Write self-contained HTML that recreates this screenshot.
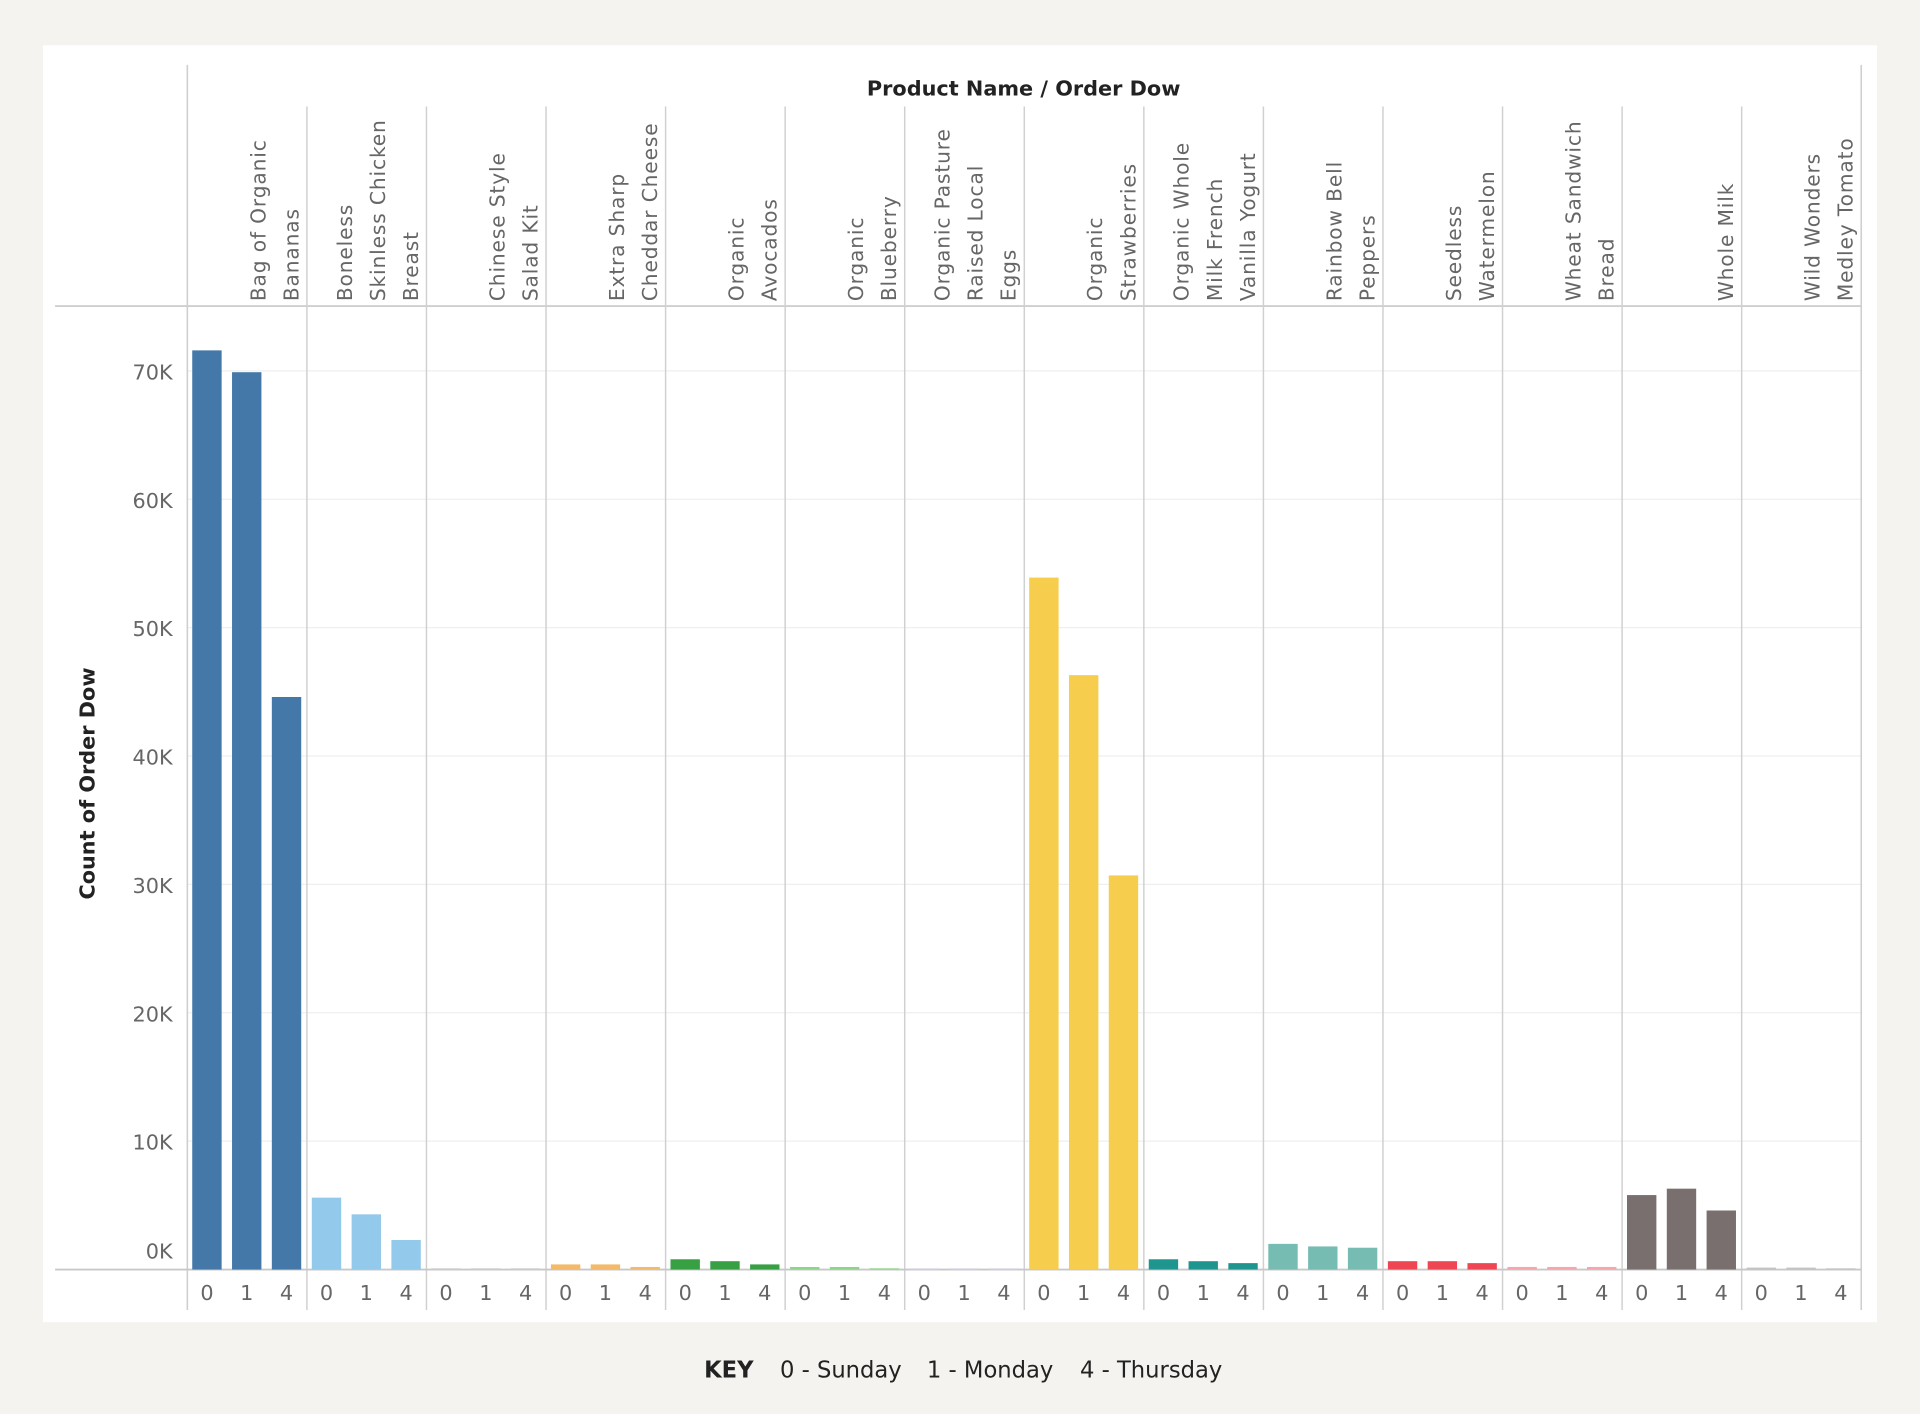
<!DOCTYPE html>
<html><head><meta charset="utf-8"><style>
html,body{margin:0;padding:0;background:#f4f3ef;width:1920px;height:1414px;overflow:hidden}
svg{display:block}
text{font-family:"DejaVu Sans","Liberation Sans",sans-serif}
</style></head><body>
<svg id="chart" width="1920" height="1414" viewBox="0 0 1568 1155" preserveAspectRatio="none" xmlns="http://www.w3.org/2000/svg">
<rect x="0" y="0" width="1568" height="1155" fill="#f4f3ef"/>
<rect x="35" y="37" width="1498" height="1043" fill="#ffffff"/>
<g id="grid"></g><g id="panes"></g><g id="bars"></g><g id="labels"></g>
<text x="836" y="78" text-anchor="middle" font-size="17" font-weight="bold" fill="#222" font-family="Liberation Sans, sans-serif">Product Name / Order Dow</text>
<text transform="translate(77,640) rotate(-90)" text-anchor="middle" font-size="17" font-weight="bold" fill="#222" font-family="Liberation Sans, sans-serif">Count of Order Dow</text>
<g font-family="Liberation Sans, sans-serif" font-size="18.5" fill="#222">
<text x="575" y="1125" font-weight="bold">KEY</text>
<text x="637" y="1125">0 - Sunday</text>
<text x="757" y="1125">1 - Monday</text>
<text x="882" y="1125">4 - Thursday</text>
</g>
</svg>
<script>
const products = [["Bag of Organic","Bananas"],["Boneless","Skinless Chicken","Breast"],["Chinese Style","Salad Kit"],["Extra Sharp","Cheddar Cheese"],["Organic","Avocados"],["Organic","Blueberry"],["Organic Pasture","Raised Local","Eggs"],["Organic","Strawberries"],["Organic Whole","Milk French","Vanilla Yogurt"],["Rainbow Bell","Peppers"],["Seedless","Watermelon"],["Wheat Sandwich","Bread"],["Whole Milk"],["Wild Wonders","Medley Tomato"]];
const days = ["0","1","4"];
const sunday = [71.6,5.6,0.05,0.4,0.8,0.2,0.05,53.9,0.8,2.0,0.65,0.2,5.8,0.15];
const monday = [69.9,4.3,0.05,0.4,0.65,0.2,0.05,46.3,0.65,1.8,0.65,0.2,6.3,0.15];
const thursday = [44.6,2.3,0.05,0.2,0.4,0.05,0.05,30.7,0.5,1.7,0.5,0.2,4.6,0.05];
const colors = ["#4378a9","#93c9ea","#cccccc","#f5b96b","#36a043","#8ed48a","#d9d2e6","#f6cd4c","#1f9590","#76bcb3","#ee4753","#f6a5ac","#7a6f6f","#c6c2bf"];
const yTicks = [0,10,20,30,40,50,60,70];
const NS="http://www.w3.org/2000/svg";
const L=153,R=1520,Y0=1037,K=10.486;
const pw=(R-L)/products.length;
function y(v){return Y0-v*K;}
function px(i){return L+i*pw;}
function mk(tag,attrs,parent){const e=document.createElementNS(NS,tag);for(const k in attrs)e.setAttribute(k,attrs[k]);parent.appendChild(e);return e;}
const grid=document.getElementById('grid'),panes=document.getElementById('panes'),bars=document.getElementById('bars'),labels=document.getElementById('labels');
yTicks.forEach(t=>{
 const g=mk('line',{x1:L,x2:R,y1:y(t),y2:y(t),stroke:'#efefef','stroke-width':1},grid);
 
 
 const ly = t===0 ? y(t)-9 : y(t)+7;
 const tx=mk('text',{x:141,y:ly,'text-anchor':'end','font-size':17,fill:'#666','font-family':'Liberation Sans, sans-serif'},labels);
 tx.textContent=t+'K';
 
 
});
let a=mk('line',{x1:L,x2:L,y1:53,y2:1070,stroke:'#cfcfcf','stroke-width':1.3},panes);

a=mk('line',{x1:R,x2:R,y1:53,y2:1070,stroke:'#cfcfcf','stroke-width':1.3},panes);

a=mk('line',{x1:45,x2:R,y1:250,y2:250,stroke:'#cfcfcf','stroke-width':1.5},panes);

for(let i=1;i<products.length;i++){
 const s=mk('line',{x1:px(i),x2:px(i),y1:87,y2:1070,stroke:'#d0d0d0','stroke-width':1.2},panes);
 
 
}
const series=[sunday,monday,thursday];
products.forEach((p,i)=>{
 const x0=px(i);
 series.forEach((s,j)=>{
  const cx=x0+16+j*32.5;
  const h=Math.max(s[i]*K,1);
  const b=mk('rect',{x:cx-12,y:Y0-h,width:24,height:h,fill:colors[i]},bars);
  
  
  const t=mk('text',{x:cx,y:1062,'text-anchor':'middle','font-size':17,fill:'#666','font-family':'Liberation Sans, sans-serif'},labels);
  t.textContent=days[j];
  
  
 });
 const n=p.length;
 p.forEach((line,k)=>{
  const lx=x0+pw-13-(n-1-k)*27;
  const t=mk('text',{transform:'translate('+(lx+6)+',246) rotate(-90)','font-size':16.5,fill:'#666','letter-spacing':'0.7'},labels);
  t.textContent=line;
  
  
 });
});
a=mk('line',{x1:45,x2:R,y1:Y0,y2:Y0,stroke:'#c8c8c8','stroke-width':1.5},panes);

</script>
</body></html>
